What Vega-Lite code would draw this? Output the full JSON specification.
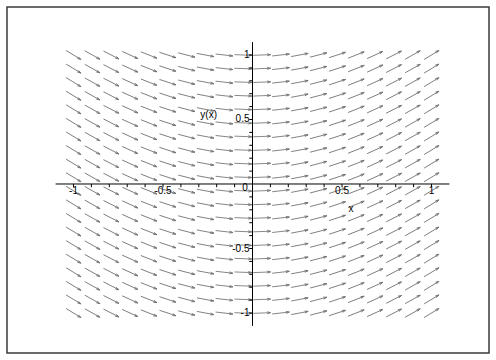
{
  "$schema": "https://vega.github.io/schema/vega-lite/v6.json",
  "width": 482,
  "height": 346,
  "padding": {"left": 7, "top": 7, "right": 7, "bottom": 7},
  "autosize": {"type": "none"},
  "background": "white",
  "config": {"view": {"stroke": "#3a3a3a", "strokeWidth": 1.5}, "font": "Liberation Sans"},
  "datasets": {
    "field": [
      {"x": -1, "a": 31.23, "ys": [-1, -0.8947, -0.7895, -0.6842, -0.5789, -0.4737, -0.3684, -0.2632, -0.1579, -0.0526, 0.0526, 0.1579, 0.2632, 0.3684, 0.4737, 0.5789, 0.6842, 0.7895, 0.8947, 1]},
      {"x": -0.8947, "a": 29.34, "ys": [-1, -0.8947, -0.7895, -0.6842, -0.5789, -0.4737, -0.3684, -0.2632, -0.1579, -0.0526, 0.0526, 0.1579, 0.2632, 0.3684, 0.4737, 0.5789, 0.6842, 0.7895, 0.8947, 1]},
      {"x": -0.7895, "a": 27.10, "ys": [-1, -0.8947, -0.7895, -0.6842, -0.5789, -0.4737, -0.3684, -0.2632, -0.1579, -0.0526, 0.0526, 0.1579, 0.2632, 0.3684, 0.4737, 0.5789, 0.6842, 0.7895, 0.8947, 1]},
      {"x": -0.6842, "a": 24.49, "ys": [-1, -0.8947, -0.7895, -0.6842, -0.5789, -0.4737, -0.3684, -0.2632, -0.1579, -0.0526, 0.0526, 0.1579, 0.2632, 0.3684, 0.4737, 0.5789, 0.6842, 0.7895, 0.8947, 1]},
      {"x": -0.5789, "a": 21.52, "ys": [-1, -0.8947, -0.7895, -0.6842, -0.5789, -0.4737, -0.3684, -0.2632, -0.1579, -0.0526, 0.0526, 0.1579, 0.2632, 0.3684, 0.4737, 0.5789, 0.6842, 0.7895, 0.8947, 1]},
      {"x": -0.4737, "a": 18.20, "ys": [-1, -0.8947, -0.7895, -0.6842, -0.5789, -0.4737, -0.3684, -0.2632, -0.1579, -0.0526, 0.0526, 0.1579, 0.2632, 0.3684, 0.4737, 0.5789, 0.6842, 0.7895, 0.8947, 1]},
      {"x": -0.3684, "a": 14.55, "ys": [-1, -0.8947, -0.7895, -0.6842, -0.5789, -0.4737, -0.3684, -0.2632, -0.1579, -0.0526, 0.0526, 0.1579, 0.2632, 0.3684, 0.4737, 0.5789, 0.6842, 0.7895, 0.8947, 1]},
      {"x": -0.2632, "a": 10.62, "ys": [-1, -0.8947, -0.7895, -0.6842, -0.5789, -0.4737, -0.3684, -0.2632, -0.1579, -0.0526, 0.0526, 0.1579, 0.2632, 0.3684, 0.4737, 0.5789, 0.6842, 0.7895, 0.8947, 1]},
      {"x": -0.1579, "a": 6.47, "ys": [-1, -0.8947, -0.7895, -0.6842, -0.5789, -0.4737, -0.3684, -0.2632, -0.1579, -0.0526, 0.0526, 0.1579, 0.2632, 0.3684, 0.4737, 0.5789, 0.6842, 0.7895, 0.8947, 1]},
      {"x": -0.0526, "a": 2.17, "ys": [-1, -0.8947, -0.7895, -0.6842, -0.5789, -0.4737, -0.3684, -0.2632, -0.1579, -0.0526, 0.0526, 0.1579, 0.2632, 0.3684, 0.4737, 0.5789, 0.6842, 0.7895, 0.8947, 1]},
      {"x": 0.0526, "a": -2.17, "ys": [-1, -0.8947, -0.7895, -0.6842, -0.5789, -0.4737, -0.3684, -0.2632, -0.1579, -0.0526, 0.0526, 0.1579, 0.2632, 0.3684, 0.4737, 0.5789, 0.6842, 0.7895, 0.8947, 1]},
      {"x": 0.1579, "a": -6.47, "ys": [-1, -0.8947, -0.7895, -0.6842, -0.5789, -0.4737, -0.3684, -0.2632, -0.1579, -0.0526, 0.0526, 0.1579, 0.2632, 0.3684, 0.4737, 0.5789, 0.6842, 0.7895, 0.8947, 1]},
      {"x": 0.2632, "a": -10.62, "ys": [-1, -0.8947, -0.7895, -0.6842, -0.5789, -0.4737, -0.3684, -0.2632, -0.1579, -0.0526, 0.0526, 0.1579, 0.2632, 0.3684, 0.4737, 0.5789, 0.6842, 0.7895, 0.8947, 1]},
      {"x": 0.3684, "a": -14.55, "ys": [-1, -0.8947, -0.7895, -0.6842, -0.5789, -0.4737, -0.3684, -0.2632, -0.1579, -0.0526, 0.0526, 0.1579, 0.2632, 0.3684, 0.4737, 0.5789, 0.6842, 0.7895, 0.8947, 1]},
      {"x": 0.4737, "a": -18.20, "ys": [-1, -0.8947, -0.7895, -0.6842, -0.5789, -0.4737, -0.3684, -0.2632, -0.1579, -0.0526, 0.0526, 0.1579, 0.2632, 0.3684, 0.4737, 0.5789, 0.6842, 0.7895, 0.8947, 1]},
      {"x": 0.5789, "a": -21.52, "ys": [-1, -0.8947, -0.7895, -0.6842, -0.5789, -0.4737, -0.3684, -0.2632, -0.1579, -0.0526, 0.0526, 0.1579, 0.2632, 0.3684, 0.4737, 0.5789, 0.6842, 0.7895, 0.8947, 1]},
      {"x": 0.6842, "a": -24.49, "ys": [-1, -0.8947, -0.7895, -0.6842, -0.5789, -0.4737, -0.3684, -0.2632, -0.1579, -0.0526, 0.0526, 0.1579, 0.2632, 0.3684, 0.4737, 0.5789, 0.6842, 0.7895, 0.8947, 1]},
      {"x": 0.7895, "a": -27.10, "ys": [-1, -0.8947, -0.7895, -0.6842, -0.5789, -0.4737, -0.3684, -0.2632, -0.1579, -0.0526, 0.0526, 0.1579, 0.2632, 0.3684, 0.4737, 0.5789, 0.6842, 0.7895, 0.8947, 1]},
      {"x": 0.8947, "a": -29.34, "ys": [-1, -0.8947, -0.7895, -0.6842, -0.5789, -0.4737, -0.3684, -0.2632, -0.1579, -0.0526, 0.0526, 0.1579, 0.2632, 0.3684, 0.4737, 0.5789, 0.6842, 0.7895, 0.8947, 1]},
      {"x": 1, "a": -31.23, "ys": [-1, -0.8947, -0.7895, -0.6842, -0.5789, -0.4737, -0.3684, -0.2632, -0.1579, -0.0526, 0.0526, 0.1579, 0.2632, 0.3684, 0.4737, 0.5789, 0.6842, 0.7895, 0.8947, 1]}
    ],
    "axes": [
      {"x": -1.1, "x2": 1.1, "y": 0, "y2": 0},
      {"x": 0, "x2": 0, "y": -1.1, "y2": 1.1}
    ],
    "ticks": [
      {"v": -1}, {"v": -0.9}, {"v": -0.8}, {"v": -0.7}, {"v": -0.6}, {"v": -0.5}, {"v": -0.4}, {"v": -0.3}, {"v": -0.2}, {"v": -0.1},
      {"v": 0.1}, {"v": 0.2}, {"v": 0.3}, {"v": 0.4}, {"v": 0.5}, {"v": 0.6}, {"v": 0.7}, {"v": 0.8}, {"v": 0.9}, {"v": 1}
    ],
    "xlabels": [
      {"v": -1, "t": "-1"}, {"v": -0.5, "t": "-0.5"}, {"v": 0.5, "t": "0.5"}, {"v": 1, "t": "1"}
    ],
    "ylabels": [
      {"v": -1, "t": "-1"}, {"v": -0.5, "t": "-0.5"}, {"v": 0.5, "t": "0.5"}, {"v": 1, "t": "1"}
    ],
    "titles": [
      {"x": 0.55, "y": -0.19, "t": "x"},
      {"x": -0.245, "y": 0.535, "t": "y(x)"},
      {"x": -0.042, "y": -0.03, "t": "0"}
    ]
  },
  "layer": [
    {
      "data": {"name": "field"},
      "transform": [{"flatten": ["ys"], "as": ["y"]}],
      "mark": {
        "type": "point",
        "shape": "M-1,0L1,0M1,0L0.6,-0.12M1,0L0.6,0.12",
        "size": 300,
        "filled": false,
        "stroke": "#6e6e6e",
        "strokeWidth": 0.8,
        "opacity": 1
      },
      "encoding": {
        "x": {"field": "x", "type": "quantitative", "scale": {"domain": [-1.3715, 1.3212], "nice": false, "zero": false}, "axis": null},
        "y": {"field": "y", "type": "quantitative", "scale": {"domain": [-1.31, 1.372], "nice": false, "zero": false}, "axis": null},
        "angle": {"field": "a", "type": "quantitative", "scale": null}
      }
    },
    {
      "data": {"name": "axes"},
      "mark": {"type": "rule", "color": "#000", "strokeWidth": 1},
      "encoding": {
        "x": {"field": "x", "type": "quantitative"},
        "x2": {"field": "x2"},
        "y": {"field": "y", "type": "quantitative"},
        "y2": {"field": "y2"}
      }
    },
    {
      "data": {"name": "ticks"},
      "mark": {"type": "rule", "color": "#000", "strokeWidth": 1},
      "encoding": {
        "x": {"field": "v", "type": "quantitative"},
        "y": {"datum": 0, "type": "quantitative"},
        "y2": {"datum": -0.025}
      }
    },
    {
      "data": {"name": "ticks"},
      "mark": {"type": "rule", "color": "#000", "strokeWidth": 1},
      "encoding": {
        "y": {"field": "v", "type": "quantitative"},
        "x": {"datum": 0, "type": "quantitative"},
        "x2": {"datum": -0.018}
      }
    },
    {
      "data": {"name": "xlabels"},
      "mark": {"type": "text", "fontSize": 10, "baseline": "top", "align": "center", "dy": 2, "color": "#000"},
      "encoding": {
        "x": {"field": "v", "type": "quantitative"},
        "y": {"datum": 0, "type": "quantitative"},
        "text": {"field": "t"}
      }
    },
    {
      "data": {"name": "ylabels"},
      "mark": {"type": "text", "fontSize": 10, "baseline": "middle", "align": "right", "dx": -3, "color": "#000"},
      "encoding": {
        "y": {"field": "v", "type": "quantitative"},
        "x": {"datum": 0, "type": "quantitative"},
        "text": {"field": "t"}
      }
    },
    {
      "data": {"name": "titles"},
      "mark": {"type": "text", "fontSize": 10, "baseline": "middle", "align": "center", "color": "#000"},
      "encoding": {
        "x": {"field": "x", "type": "quantitative"},
        "y": {"field": "y", "type": "quantitative"},
        "text": {"field": "t"}
      }
    }
  ]
}
